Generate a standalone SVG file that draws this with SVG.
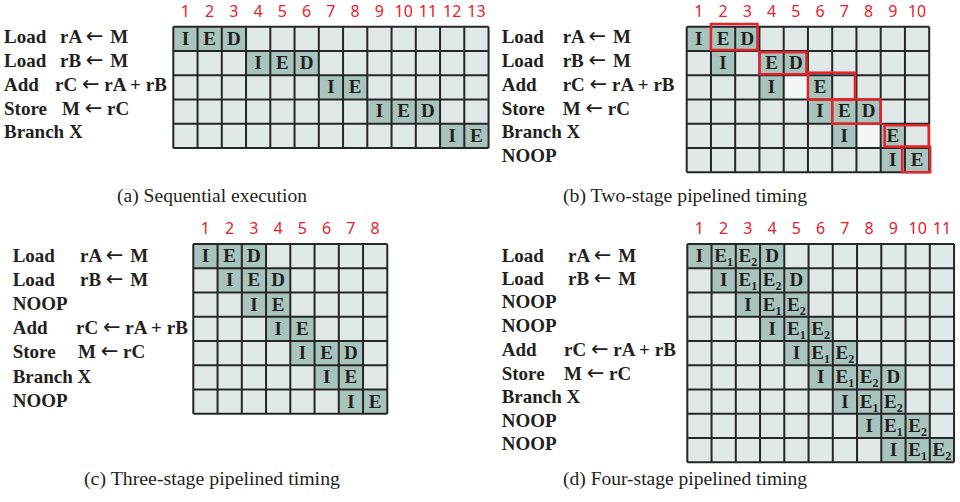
<svg xmlns="http://www.w3.org/2000/svg" width="960" height="502" viewBox="0 0 960 502">
<style>
.bg{fill:#e0e9e7}
.s{fill:#a9c3bd}
.w{fill:#f2f7f6}
.g{fill:none;stroke:#262626;stroke-width:2}
.n{font-family:"Noto Sans","Liberation Sans",sans-serif;font-size:16px;fill:#e8212a;text-anchor:middle}
.c{font-family:"Liberation Serif",serif;font-weight:bold;font-size:19px;fill:#231f20;text-anchor:middle}
.l{font-family:"Liberation Serif",serif;font-weight:bold;font-size:19px;fill:#231f20}
.ar{font-family:"DejaVu Sans",sans-serif;font-weight:normal;font-size:21px}
.cap{font-family:"Liberation Serif",serif;font-size:18px;fill:#231f20;text-anchor:middle}
.r{fill:none;stroke:#e3242b;stroke-width:2.5}
</style>
<rect width="960" height="502" fill="#ffffff"/>

<!-- (a) Sequential execution -->
<g id="panel-a">
  <g id="labels-a" class="l">
    <text x="4" y="43.3">Load</text><text x="60" y="43.3">rA <tspan class="ar">←</tspan> <tspan dx="2">M</tspan></text>
    <text x="4" y="67">Load</text><text x="60" y="67">rB <tspan class="ar">←</tspan> <tspan dx="2">M</tspan></text>
    <text x="4" y="90.5">Add</text><text x="55" y="90.5">rC <tspan class="ar">←</tspan> rA + rB</text>
    <text x="4" y="114.5">Store</text><text x="62" y="114.5">M <tspan class="ar">←</tspan> rC</text>
    <text x="4" y="138">Branch X</text>
  </g>
  <g id="grid-a" transform="translate(173.3,26.7)">
    <rect class="bg" x="0" y="0" width="315.25" height="121.25"/>
    <rect class="s" x="0" y="0" width="72.75" height="24.25"/>
    <rect class="s" x="72.75" y="24.25" width="72.75" height="24.25"/>
    <rect class="s" x="145.5" y="48.5" width="48.5" height="24.25"/>
    <rect class="s" x="194" y="72.75" width="72.75" height="24.25"/>
    <rect class="s" x="266.75" y="97" width="48.5" height="24.25"/>
    <path class="g" d="M0 0H315.25M0 24.25H315.25M0 48.5H315.25M0 72.75H315.25M0 97H315.25M0 121.25H315.25M0 0V121.25M24.25 0V121.25M48.5 0V121.25M72.75 0V121.25M97 0V121.25M121.25 0V121.25M145.5 0V121.25M169.75 0V121.25M194 0V121.25M218.25 0V121.25M242.5 0V121.25M266.75 0V121.25M291 0V121.25M315.25 0V121.25"/>
    <g class="c">
      <text x="12.125" y="18">I</text><text x="36.375" y="18">E</text><text x="60.625" y="18">D</text>
      <text x="84.875" y="42.25">I</text><text x="109.125" y="42.25">E</text><text x="133.375" y="42.25">D</text>
      <text x="157.625" y="66.5">I</text><text x="181.875" y="66.5">E</text>
      <text x="206.125" y="90.75">I</text><text x="230.375" y="90.75">E</text><text x="254.625" y="90.75">D</text>
      <text x="278.875" y="115">I</text><text x="303.125" y="115">E</text>
    </g>
    <g class="n">
      <text x="12.125" y="-10">1</text><text x="36.375" y="-10">2</text><text x="60.625" y="-10">3</text><text x="84.875" y="-10">4</text><text x="109.125" y="-10">5</text><text x="133.375" y="-10">6</text><text x="157.625" y="-10">7</text><text x="181.875" y="-10">8</text><text x="206.125" y="-10">9</text><text x="230.375" y="-10">10</text><text x="254.625" y="-10">11</text><text x="278.875" y="-10">12</text><text x="303.125" y="-10">13</text>
    </g>
  </g>
  <text class="cap" x="212" y="202" textLength="190" lengthAdjust="spacingAndGlyphs">(a) Sequential execution</text>
</g>

<!-- (b) Two-stage pipelined timing -->
<g id="panel-b">
  <g id="labels-b" class="l">
    <text x="501.7" y="43.3">Load</text><text x="562.7" y="43.3">rA <tspan class="ar">←</tspan> <tspan dx="2">M</tspan></text>
    <text x="501.7" y="67">Load</text><text x="562.7" y="67">rB <tspan class="ar">←</tspan> <tspan dx="2">M</tspan></text>
    <text x="501.7" y="90.5">Add</text><text x="562.7" y="90.5">rC <tspan class="ar">←</tspan> rA + rB</text>
    <text x="501.7" y="114.5">Store</text><text x="562.7" y="114.5">M <tspan class="ar">←</tspan> rC</text>
    <text x="501.7" y="138">Branch X</text>
    <text x="501.7" y="162">NOOP</text>
  </g>
  <g id="grid-b" transform="translate(686.7,26.7)">
    <rect class="bg" x="0" y="0" width="242.5" height="145.5"/>
    <rect class="s" x="0" y="0" width="72.75" height="24.25"/>
    <rect class="s" x="24.25" y="24.25" width="24.25" height="24.25"/>
    <rect class="s" x="72.75" y="24.25" width="48.5" height="24.25"/>
    <rect class="s" x="72.75" y="48.5" width="24.25" height="24.25"/>
    <rect class="w" x="97" y="48.5" width="24.25" height="24.25"/>
    <rect class="s" x="121.25" y="48.5" width="24.25" height="24.25"/>
    <rect class="s" x="121.25" y="72.75" width="72.75" height="24.25"/>
    <rect class="s" x="145.5" y="97" width="24.25" height="24.25"/>
    <rect class="w" x="169.75" y="97" width="24.25" height="24.25"/>
    <rect class="s" x="194" y="97" width="24.25" height="24.25"/>
    <rect class="s" x="194" y="121.25" width="48.5" height="24.25"/>
    <path class="g" d="M0 0H242.5M0 24.25H242.5M0 48.5H242.5M0 72.75H242.5M0 97H242.5M0 121.25H242.5M0 145.5H242.5M0 0V145.5M24.25 0V145.5M48.5 0V145.5M72.75 0V145.5M97 0V145.5M121.25 0V145.5M145.5 0V145.5M169.75 0V145.5M194 0V145.5M218.25 0V145.5M242.5 0V145.5"/>
    <g class="c">
      <text x="12.125" y="18">I</text><text x="36.375" y="18">E</text><text x="60.625" y="18">D</text>
      <text x="36.375" y="42.25">I</text><text x="84.875" y="42.25">E</text><text x="109.125" y="42.25">D</text>
      <text x="84.875" y="66.5">I</text><text x="133.375" y="66.5">E</text>
      <text x="133.375" y="90.75">I</text><text x="157.625" y="90.75">E</text><text x="181.875" y="90.75">D</text>
      <text x="157.625" y="115">I</text><text x="206.125" y="115">E</text>
      <text x="206.125" y="139.25">I</text><text x="230.375" y="139.25">E</text>
    </g>
    <g id="hazards-b">
      <rect class="r" x="24.25" y="-2.7" width="46.5" height="26"/>
      <rect class="r" x="72.75" y="25.5" width="47" height="22"/>
      <rect class="r" x="121.25" y="46" width="47" height="27"/>
      <rect class="r" x="145.5" y="72.75" width="48.5" height="24.25"/>
      <rect class="r" x="198" y="98.5" width="44" height="21.5"/>
      <rect class="r" x="215.5" y="120" width="28" height="25.5"/>
    </g>
    <g class="n">
      <text x="12.125" y="-10">1</text><text x="36.375" y="-10">2</text><text x="60.625" y="-10">3</text><text x="84.875" y="-10">4</text><text x="109.125" y="-10">5</text><text x="133.375" y="-10">6</text><text x="157.625" y="-10">7</text><text x="181.875" y="-10">8</text><text x="206.125" y="-10">9</text><text x="230.375" y="-10">10</text>
    </g>
  </g>
  <text class="cap" x="685" y="202" textLength="244" lengthAdjust="spacingAndGlyphs">(b) Two-stage pipelined timing</text>
</g>

<!-- (c) Three-stage pipelined timing -->
<g id="panel-c">
  <g id="labels-c" class="l">
    <text x="12.7" y="261.7">Load</text><text x="80" y="261.7">rA <tspan class="ar">←</tspan> <tspan dx="2">M</tspan></text>
    <text x="12.7" y="286">Load</text><text x="80" y="286">rB <tspan class="ar">←</tspan> <tspan dx="2">M</tspan></text>
    <text x="12.7" y="310">NOOP</text>
    <text x="12.7" y="334">Add</text><text x="76" y="334">rC <tspan class="ar">←</tspan> rA + rB</text>
    <text x="12.7" y="358.3">Store</text><text x="78" y="358.3">M <tspan class="ar">←</tspan> rC</text>
    <text x="12.7" y="382.7">Branch X</text>
    <text x="12.7" y="406.7">NOOP</text>
  </g>
  <g id="grid-c" transform="translate(193.3,244)">
    <rect class="bg" x="0" y="0" width="194" height="169.75"/>
    <rect class="s" x="0" y="0" width="72.75" height="24.25"/>
    <rect class="s" x="24.25" y="24.25" width="72.75" height="24.25"/>
    <rect class="s" x="48.5" y="48.5" width="48.5" height="24.25"/>
    <rect class="s" x="72.75" y="72.75" width="48.5" height="24.25"/>
    <rect class="s" x="97" y="97" width="72.75" height="24.25"/>
    <rect class="s" x="121.25" y="121.25" width="48.5" height="24.25"/>
    <rect class="s" x="145.5" y="145.5" width="48.5" height="24.25"/>
    <path class="g" d="M0 0H194M0 24.25H194M0 48.5H194M0 72.75H194M0 97H194M0 121.25H194M0 145.5H194M0 169.75H194M0 0V169.75M24.25 0V169.75M48.5 0V169.75M72.75 0V169.75M97 0V169.75M121.25 0V169.75M145.5 0V169.75M169.75 0V169.75M194 0V169.75"/>
    <g class="c">
      <text x="12.125" y="18">I</text><text x="36.375" y="18">E</text><text x="60.625" y="18">D</text>
      <text x="36.375" y="42.25">I</text><text x="60.625" y="42.25">E</text><text x="84.875" y="42.25">D</text>
      <text x="60.625" y="66.5">I</text><text x="84.875" y="66.5">E</text>
      <text x="84.875" y="90.75">I</text><text x="109.125" y="90.75">E</text>
      <text x="109.125" y="115">I</text><text x="133.375" y="115">E</text><text x="157.625" y="115">D</text>
      <text x="133.375" y="139.25">I</text><text x="157.625" y="139.25">E</text>
      <text x="157.625" y="163.5">I</text><text x="181.875" y="163.5">E</text>
    </g>
    <g class="n">
      <text x="12.125" y="-10">1</text><text x="36.375" y="-10">2</text><text x="60.625" y="-10">3</text><text x="84.875" y="-10">4</text><text x="109.125" y="-10">5</text><text x="133.375" y="-10">6</text><text x="157.625" y="-10">7</text><text x="181.875" y="-10">8</text>
    </g>
  </g>
  <text class="cap" x="212" y="485" textLength="256" lengthAdjust="spacingAndGlyphs">(c) Three-stage pipelined timing</text>
</g>

<!-- (d) Four-stage pipelined timing -->
<g id="panel-d">
  <g id="labels-d" class="l">
    <text x="501.7" y="261.7">Load</text><text x="568" y="261.7">rA <tspan class="ar">←</tspan> <tspan dx="2">M</tspan></text>
    <text x="501.7" y="285">Load</text><text x="568" y="285">rB <tspan class="ar">←</tspan> <tspan dx="2">M</tspan></text>
    <text x="501.7" y="308.3">NOOP</text>
    <text x="501.7" y="331.7">NOOP</text>
    <text x="501.7" y="356">Add</text><text x="564" y="356">rC <tspan class="ar">←</tspan> rA + rB</text>
    <text x="501.7" y="380">Store</text><text x="564" y="380">M <tspan class="ar">←</tspan> rC</text>
    <text x="501.7" y="403.3">Branch X</text>
    <text x="501.7" y="426.7">NOOP</text>
    <text x="501.7" y="450">NOOP</text>
  </g>
  <g id="grid-d" transform="translate(687.3,244)">
    <rect class="bg" x="0" y="0" width="266.75" height="218.25"/>
    <rect class="s" x="0" y="0" width="97" height="24.25"/>
    <rect class="s" x="24.25" y="24.25" width="97" height="24.25"/>
    <rect class="s" x="48.5" y="48.5" width="72.75" height="24.25"/>
    <rect class="s" x="72.75" y="72.75" width="72.75" height="24.25"/>
    <rect class="s" x="97" y="97" width="72.75" height="24.25"/>
    <rect class="s" x="121.25" y="121.25" width="97" height="24.25"/>
    <rect class="s" x="145.5" y="145.5" width="72.75" height="24.25"/>
    <rect class="s" x="169.75" y="169.75" width="72.75" height="24.25"/>
    <rect class="s" x="194" y="194" width="72.75" height="24.25"/>
    <path class="g" d="M0 0H266.75M0 24.25H266.75M0 48.5H266.75M0 72.75H266.75M0 97H266.75M0 121.25H266.75M0 145.5H266.75M0 169.75H266.75M0 194H266.75M0 218.25H266.75M0 0V218.25M24.25 0V218.25M48.5 0V218.25M72.75 0V218.25M97 0V218.25M121.25 0V218.25M145.5 0V218.25M169.75 0V218.25M194 0V218.25M218.25 0V218.25M242.5 0V218.25M266.75 0V218.25"/>
    <g class="c">
      <text x="12.125" y="18">I</text><text x="36.375" y="18">E<tspan font-size="12" dy="4">1</tspan></text><text x="60.625" y="18">E<tspan font-size="12" dy="4">2</tspan></text><text x="84.875" y="18">D</text>
      <text x="36.375" y="42.25">I</text><text x="60.625" y="42.25">E<tspan font-size="12" dy="4">1</tspan></text><text x="84.875" y="42.25">E<tspan font-size="12" dy="4">2</tspan></text><text x="109.125" y="42.25">D</text>
      <text x="60.625" y="66.5">I</text><text x="84.875" y="66.5">E<tspan font-size="12" dy="4">1</tspan></text><text x="109.125" y="66.5">E<tspan font-size="12" dy="4">2</tspan></text>
      <text x="84.875" y="90.75">I</text><text x="109.125" y="90.75">E<tspan font-size="12" dy="4">1</tspan></text><text x="133.375" y="90.75">E<tspan font-size="12" dy="4">2</tspan></text>
      <text x="109.125" y="115">I</text><text x="133.375" y="115">E<tspan font-size="12" dy="4">1</tspan></text><text x="157.625" y="115">E<tspan font-size="12" dy="4">2</tspan></text>
      <text x="133.375" y="139.25">I</text><text x="157.625" y="139.25">E<tspan font-size="12" dy="4">1</tspan></text><text x="181.875" y="139.25">E<tspan font-size="12" dy="4">2</tspan></text><text x="206.125" y="139.25">D</text>
      <text x="157.625" y="163.5">I</text><text x="181.875" y="163.5">E<tspan font-size="12" dy="4">1</tspan></text><text x="206.125" y="163.5">E<tspan font-size="12" dy="4">2</tspan></text>
      <text x="181.875" y="187.75">I</text><text x="206.125" y="187.75">E<tspan font-size="12" dy="4">1</tspan></text><text x="230.375" y="187.75">E<tspan font-size="12" dy="4">2</tspan></text>
      <text x="206.125" y="212">I</text><text x="230.375" y="212">E<tspan font-size="12" dy="4">1</tspan></text><text x="254.625" y="212">E<tspan font-size="12" dy="4">2</tspan></text>
    </g>
    <g class="n">
      <text x="12.125" y="-10">1</text><text x="36.375" y="-10">2</text><text x="60.625" y="-10">3</text><text x="84.875" y="-10">4</text><text x="109.125" y="-10">5</text><text x="133.375" y="-10">6</text><text x="157.625" y="-10">7</text><text x="181.875" y="-10">8</text><text x="206.125" y="-10">9</text><text x="230.375" y="-10">10</text><text x="254.625" y="-10">11</text>
    </g>
  </g>
  <text class="cap" x="685" y="485" textLength="244" lengthAdjust="spacingAndGlyphs">(d) Four-stage pipelined timing</text>
</g>
</svg>
